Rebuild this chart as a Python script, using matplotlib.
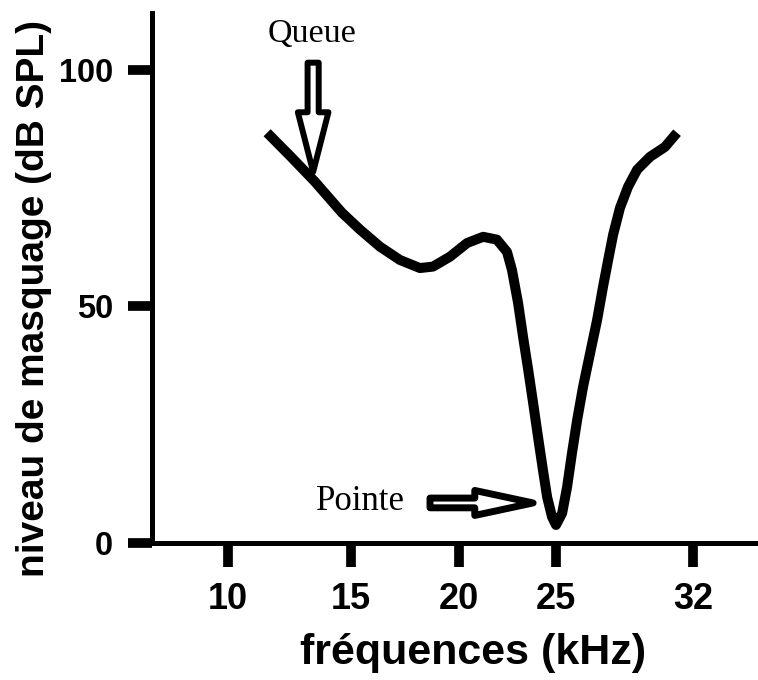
import numpy as np
import matplotlib
matplotlib.use("Agg")
import matplotlib.pyplot as plt

# courbe d'accord (positions sur l'axe des fréquences, niveau en dB SPL)
freq_pos = [11.59, 12.56, 13.54, 14.63, 15.37, 16.18, 16.99, 17.80, 18.33, 19.02,
            19.72, 20.37, 20.93, 21.34, 21.54, 21.79, 21.99, 22.20, 22.40, 22.60,
            22.80, 22.97, 23.17, 23.33, 23.58, 23.78, 23.98, 24.19, 24.43, 24.72,
            25.00, 25.24, 25.45, 25.65, 25.93, 26.26, 26.63, 27.15, 27.76, 28.25]
niveau = [86.7, 81.6, 76.3, 69.8, 66.2, 62.6, 59.8, 58.1, 58.4, 60.5,
          63.4, 64.7, 64.1, 61.5, 57.7, 50.7, 43.6, 36.6, 29.6, 22.4,
          15.4, 9.7, 5.5, 3.8, 6.3, 11.8, 19.0, 26.0, 33.0, 40.2,
          47.1, 54.1, 59.8, 65.1, 70.8, 75.3, 78.9, 81.6, 83.7, 86.7]

# graduations
xtick_pos = [10, 15, 19.39, 23.33, 28.9]
xtick_labels = ["10", "15", "20", "25", "32"]
yticks = [0, 50, 100]

# annotations
queue_tail = (13.46, 101.5)
queue_tip = (13.46, 78.4)
pointe_tail = (18.21, 8.46)
pointe_tip = (22.40, 8.46)

fig = plt.figure(figsize=(7.58, 6.8), dpi=100)
ax = fig.add_axes([0.2005, 0.2015, 0.7995, 0.7794])

ax.plot(freq_pos, niveau, color="black", lw=7.2, solid_capstyle="butt",
        solid_joinstyle="round")

ax.set_xlim(6.91, 31.54)
ax.set_ylim(0, 112)

for s in ["top", "right"]:
    ax.spines[s].set_visible(False)
for s in ["left", "bottom"]:
    ax.spines[s].set_linewidth(3.6)

ax.set_xticks(xtick_pos)
ax.set_xticklabels(xtick_labels)
ax.set_yticks(yticks)

ax.tick_params(axis="both", direction="out", length=17, width=7, color="black")
ax.tick_params(axis="x", pad=11)
ax.tick_params(axis="y", pad=11)
for lab in ax.get_xticklabels():
    lab.set_fontfamily("Liberation Sans")
    lab.set_fontweight("bold")
    lab.set_fontsize(26)
for lab in ax.get_yticklabels():
    lab.set_fontfamily("Liberation Sans")
    lab.set_fontweight("bold")
    lab.set_fontsize(23.5)

ax.set_xlabel("fréquences (kHz)", fontsize=31, fontweight="bold",
              family="Liberation Sans")
ax.xaxis.set_label_coords(0.53, -0.17)
ax.set_ylabel("niveau de masquage (dB SPL)", fontsize=28, fontweight="bold",
              family="Liberation Sans")
ax.yaxis.set_label_coords(-0.165, 0.462)

# flèches creuses
ax.annotate("", xy=queue_tip, xytext=queue_tail,
            arrowprops=dict(arrowstyle="simple,head_length=43,head_width=22,tail_width=8",
                            mutation_scale=1, fc="white", ec="black", lw=4.3,
                            shrinkA=0, shrinkB=0))
ax.annotate("", xy=pointe_tip, xytext=pointe_tail,
            arrowprops=dict(arrowstyle="simple,head_length=42,head_width=18,tail_width=7",
                            mutation_scale=1, fc="white", ec="black", lw=5,
                            shrinkA=0, shrinkB=0))

ax.text(13.41, 105.9, "Queue", fontsize=24.5, family="Liberation Serif",
        ha="center", va="baseline")
ax.text(13.58, 7.0, "Pointe", fontsize=25, family="Liberation Serif",
        ha="left", va="baseline")

fig.savefig("out.png", dpi=100)
